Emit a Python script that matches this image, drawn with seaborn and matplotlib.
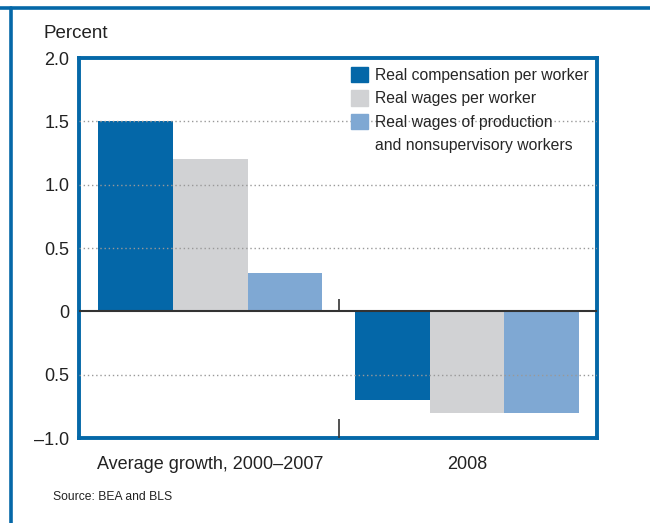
import matplotlib
matplotlib.use("Agg")
import matplotlib.pyplot as plt
import seaborn as sns
import pandas as pd
from matplotlib.lines import Line2D
from matplotlib.patches import Patch

# data
groups = ["Average growth, 2000\u20132007", "2008"]
series = ["Real compensation per worker",
          "Real wages per worker",
          "Real wages of production\nand nonsupervisory workers"]
comp = [1.5, -0.7]
wages = [1.2, -0.8]
prod_wages = [0.3, -0.8]
colors = ["#0467a8", "#d1d2d4", "#7fa8d3"]
yticks = [-1.0, -0.5, 0, 0.5, 1.0, 1.5, 2.0]
ytick_labels = ["\u20131.0", "0.5", "0", "0.5", "1.0", "1.5", "2.0"]

df = pd.DataFrame({
    "group": groups * 3,
    "series": [series[0]] * 2 + [series[1]] * 2 + [series[2]] * 2,
    "value": comp + wages + prod_wages,
})

sns.set_style("white")
plt.rcParams["font.family"] = ["Liberation Sans", "DejaVu Sans"]

blue = "#0568a8"
fig = plt.figure(figsize=(6.5, 5.23), dpi=100)
ax = fig.add_axes([0.1215, 0.1625, 0.797, 0.7266])

sns.barplot(data=df, x="group", y="value", hue="series", order=groups,
            hue_order=series, palette=colors, width=0.875, gap=0,
            saturation=1, edgecolor="none", linewidth=0, ax=ax, zorder=2,
            legend=False)

ax.set_xlim(-0.51, 1.506)
ax.set_ylim(-1.0, 2.0)
ax.set_yticks(yticks)
ax.set_yticklabels(ytick_labels)
ax.set_xlabel("")
ax.set_ylabel("")

# dotted grid on top of the bars
for y in [-0.5, 0.5, 1.0, 1.5]:
    ax.axhline(y, color="#999999", lw=1, ls=(0, (1, 2)), zorder=3)
ax.axhline(0, color="#333333", lw=1.5, zorder=4)
# separator ticks between the groups
ax.vlines(0.5, 0, 0.1, color="#333333", lw=1.2, zorder=4)
ax.vlines(0.5, -1.0, -0.85, color="#333333", lw=1.2, zorder=4)

for s in ax.spines.values():
    s.set_color(blue)
    s.set_linewidth(2.8)
    s.set_visible(True)
ax.tick_params(axis="both", length=0, labelsize=13, colors="#222222", pad=7)
ax.tick_params(axis="x", pad=13)

# legend: the long label wraps, second line gets no swatch
handles = [Patch(color=c) for c in colors] + [Patch(color="none")]
labels = series[:2] + series[2].split("\n")
ax.legend(handles, labels, loc="upper right", bbox_to_anchor=(1.0, 1.0),
          frameon=False, fontsize=11.3, handlelength=1.05, handleheight=1.15,
          handletextpad=0.45, labelspacing=0.47, borderaxespad=0.15)

fig.text(43 / 650, 1 - 33 / 523, "Percent", fontsize=13.5, va="center",
         color="#222222")
fig.text(53 / 650, 1 - 497 / 523, "Source: BEA and BLS", fontsize=8.7,
         va="center", color="#222222")

# outer frame
fig.add_artist(Line2D([0, 1], [1 - 7.5 / 523, 1 - 7.5 / 523],
                      transform=fig.transFigure, color=blue, lw=2.6))
fig.add_artist(Line2D([11 / 650, 11 / 650], [0, 1 - 7.5 / 523],
                      transform=fig.transFigure, color=blue, lw=2.6))

fig.savefig("out.png", dpi=100)
